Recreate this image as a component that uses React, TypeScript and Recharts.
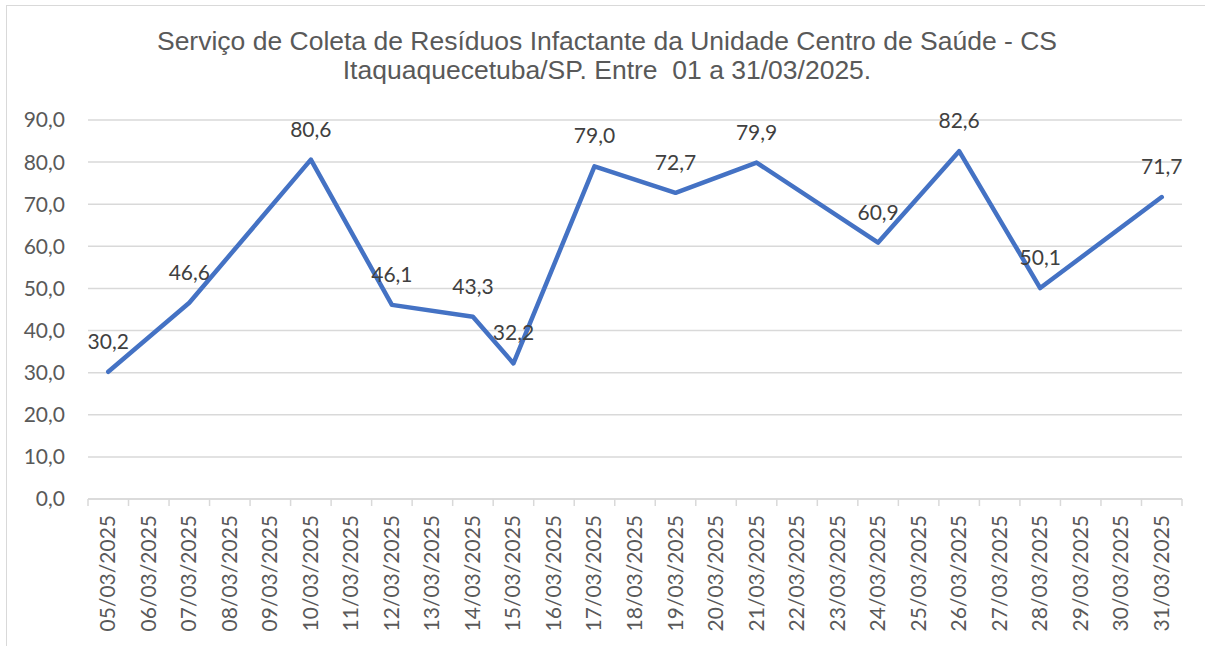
import React from "react";
import { LineChart, Line, XAxis, YAxis, CartesianGrid, LabelList } from "recharts";

const dates = [
  "05/03/2025", "06/03/2025", "07/03/2025", "08/03/2025", "09/03/2025", "10/03/2025",
  "11/03/2025", "12/03/2025", "13/03/2025", "14/03/2025", "15/03/2025", "16/03/2025",
  "17/03/2025", "18/03/2025", "19/03/2025", "20/03/2025", "21/03/2025", "22/03/2025",
  "23/03/2025", "24/03/2025", "25/03/2025", "26/03/2025", "27/03/2025", "28/03/2025",
  "29/03/2025", "30/03/2025", "31/03/2025",
];

// null = no collection on that day
const pesos: (number | null)[] = [
  30.2, null, 46.6, null, null, 80.6,
  null, 46.1, null, 43.3, 32.2, null,
  79.0, null, 72.7, null, 79.9, null,
  null, 60.9, null, 82.6, null, 50.1,
  null, null, 71.7,
];

const yTicks = [0, 10, 20, 30, 40, 50, 60, 70, 80, 90];

const data = dates.map((d, i) => ({ dia: d, peso: pesos[i] }));

const fmt = (v: number) => v.toFixed(1).replace(".", ",");

const FONT = "Lato, 'Liberation Sans', sans-serif";
const BAND = 1094 / dates.length;

const DateTick = (props: any) => {
  const { x, y, payload, index } = props;
  return (
    <g>
      {index === 0 && <line x1={x - BAND / 2} y1={y} x2={x - BAND / 2} y2={y + 7} stroke="#d9d9d9" strokeWidth={1.5} />}
      <line x1={x + BAND / 2} y1={y} x2={x + BAND / 2} y2={y + 7} stroke="#d9d9d9" strokeWidth={1.5} />
      <text
        transform={`translate(${x + 7},${y + 16}) rotate(-90)`}
        textAnchor="end"
        fill="#595959"
        fontSize={21}
        fontFamily={FONT}
      >
        {payload.value}
      </text>
    </g>
  );
};

const ValueLabel = (props: any) => {
  const { x, y, value } = props;
  if (value == null) return null;
  return (
    <text x={x} y={y - 23} textAnchor="middle" fill="#404040" fontSize={21} fontFamily={FONT}>
      {fmt(value)}
    </text>
  );
};

export default function App() {
  return (
    <div style={{ position: "absolute", left: 6, top: 5, width: 1200, height: 640, border: "1px solid #d9d9d9", background: "#fff" }}>
      <div
        style={{
          position: "absolute",
          left: 0,
          width: 1200,
          top: 21,
          textAlign: "center",
          fontFamily: "'Liberation Sans', Arial, sans-serif",
          fontSize: 26.5,
          lineHeight: "29px",
          color: "#595959",
        }}
      >
        Serviço de Coleta de Resíduos Infactante da Unidade Centro de Saúde - CS
        <br />
        Itaquaquecetuba/SP. Entre&nbsp; 01 a 31/03/2025.
      </div>
      <LineChart
        width={1198}
        height={640}
        data={data}
        margin={{ top: 114, right: 23, bottom: 17, left: 21 }}
      >
        <CartesianGrid vertical={false} stroke="#d9d9d9" strokeWidth={1.5} />
        <XAxis
          dataKey="dia"
          interval={0}
          height={130}
          padding={{ left: BAND / 2, right: BAND / 2 }}
          tickLine={false}
          tickSize={0}
          tickMargin={0}
          axisLine={{ stroke: "#d9d9d9", strokeWidth: 1.5 }}
          tick={<DateTick />}
        />
        <YAxis
          width={60}
          domain={[0, 90]}
          ticks={yTicks}
          tickFormatter={fmt}
          axisLine={false}
          tickLine={false}
          tickSize={0}
          tickMargin={23}
          tick={{ fill: "#595959", fontSize: 21, fontFamily: FONT }}
        />
        <Line
          type="linear"
          dataKey="peso"
          stroke="#4472C4"
          strokeWidth={4.5}
          strokeLinecap="round"
          strokeLinejoin="round"
          connectNulls
          dot={false}
          isAnimationActive={false}
        >
          <LabelList dataKey="peso" content={<ValueLabel />} />
        </Line>
      </LineChart>
    </div>
  );
}
